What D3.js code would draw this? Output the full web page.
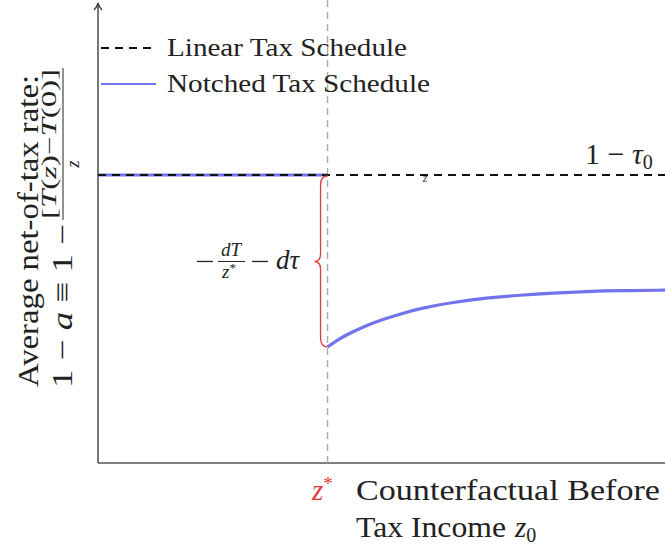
<!DOCTYPE html>
<html><head><meta charset="utf-8">
<script src="https://cdn.jsdelivr.net/npm/d3@7"></script>
<style>body{margin:0;background:#fff}svg{display:block}text{font-family:"Liberation Serif","DejaVu Serif",serif;fill:#222}</style>
</head><body><svg id="c" width="665" height="547"></svg>
<script>
// ---- data ----
const zStar = 1.0;                 // notch point (income units)
const zMax = 2.47;                 // right end of x axis
const linearRate = 0.70;           // 1 - tau0
const linearZ = [0, zMax];
const notchFlatZ = [0, zStar];
const notchCurveZ = [1.0, 1.054, 1.111, 1.185, 1.259, 1.329, 1.403, 1.55, 1.69, 1.84, 1.98, 2.13, 2.27, 2.47];
const notchCurveY = [0.282, 0.303, 0.319, 0.338, 0.352, 0.364, 0.376, 0.391, 0.401, 0.408, 0.413, 0.417, 0.419, 0.420];
const legendLabels = ["Linear Tax Schedule", "Notched Tax Schedule"];

(function(){
const svg = d3.select("#c");
const x = d3.scaleLinear().domain([0, zMax]).range([98, 665]);
const y = d3.scaleLinear().domain([0, 1.118]).range([463, 3]);

const blue = "#7373ee", red = "#e23a3a";

// axes
svg.append("line").attr("x1", x(0)).attr("x2", x(zMax)).attr("y1", y(0)).attr("y2", y(0))
  .attr("stroke", "#555").attr("stroke-width", 1.6);
svg.append("line").attr("x1", x(0)).attr("x2", x(0)).attr("y1", y(0)).attr("y2", y(1.118)+2)
  .attr("stroke", "#555").attr("stroke-width", 1.6);
svg.append("path").attr("d", `M${x(0)-4},${y(1.118)+7} Q${x(0)-1},${y(1.118)+4} ${x(0)},${y(1.118)} Q${x(0)+1},${y(1.118)+4} ${x(0)+4},${y(1.118)+7}`)
  .attr("fill", "none").attr("stroke", "#333").attr("stroke-width", 1.2);

// vertical dashed line at z*
svg.append("line").attr("x1", x(zStar)).attr("x2", x(zStar)).attr("y1", 0).attr("y2", y(0))
  .attr("stroke", "#aaa").attr("stroke-width", 1.4).attr("stroke-dasharray", "7,5");

// notched schedule
const line = d3.line().x(d => x(d[0])).y(d => y(d[1]));
svg.append("path").attr("d", line(notchFlatZ.map(z => [z, linearRate])))
  .attr("fill", "none").attr("stroke", blue).attr("stroke-width", 3.2);
svg.append("path").attr("d", d3.line().x(d => x(d[0])).y(d => y(d[1])).curve(d3.curveBasis)(notchCurveZ.map((z, i) => [z, notchCurveY[i]])))
  .attr("fill", "none").attr("stroke", blue).attr("stroke-width", 3.2);

// linear schedule (dashed black)
svg.append("path").attr("d", line(linearZ.map(z => [z, linearRate])))
  .attr("fill", "none").attr("stroke", "#111").attr("stroke-width", 2).attr("stroke-dasharray", "8,6");

// stray small z on the dashed line
svg.append("text").attr("x", 425).attr("y", 182).attr("font-size", 12).attr("font-style", "italic")
  .attr("text-anchor", "middle").style("fill", "#444").text("z");

// brace
const bx = x(zStar) - 7, bTop = y(linearRate) + 1, bBot = y(notchCurveY[0]), mid = (bTop + bBot) / 2;
const p = d3.path();
p.moveTo(x(zStar), bTop);
p.quadraticCurveTo(bx, bTop, bx, bTop + 9);
p.lineTo(bx, mid - 8);
p.quadraticCurveTo(bx, mid, bx - 6, mid);
p.quadraticCurveTo(bx, mid, bx, mid + 8);
p.lineTo(bx, bBot - 9);
p.quadraticCurveTo(bx, bBot, x(zStar), bBot);
svg.append("path").attr("d", p.toString()).attr("fill", "none").attr("stroke", red).attr("stroke-width", 1.3);

// brace label  −dT/z* − dτ
const lg = svg.append("g");
lg.append("line").attr("x1", 197).attr("x2", 213).attr("y1", mid).attr("y2", mid).attr("stroke", "#222").attr("stroke-width", 1.3);
lg.append("text").attr("x", 231).attr("y", mid - 5).attr("font-size", 19).attr("font-style", "italic").attr("text-anchor", "middle").text("dT");
lg.append("line").attr("x1", 218).attr("x2", 245).attr("y1", mid).attr("y2", mid).attr("stroke", "#222").attr("stroke-width", 1);
lg.append("text").attr("x", 229).attr("y", mid + 17).attr("font-size", 19).attr("font-style", "italic").attr("text-anchor", "middle")
  .html('z<tspan font-size="13" dy="-6" font-style="normal">*</tspan>');
lg.append("line").attr("x1", 252).attr("x2", 268).attr("y1", mid).attr("y2", mid).attr("stroke", "#222").attr("stroke-width", 1.3);
lg.append("text").attr("x", 276).attr("y", mid + 8).attr("font-size", 27).attr("font-style", "italic").text("dτ");

// 1 − τ0
svg.append("text").attr("x", 585).attr("y", 164).attr("font-size", 30)
  .html('1 − <tspan font-style="italic">τ</tspan><tspan font-size="20" dy="5">0</tspan>');

// legend
const leg = svg.append("g");
leg.append("line").attr("x1", 101).attr("x2", 156).attr("y1", 48).attr("y2", 48)
  .attr("stroke", "#111").attr("stroke-width", 2).attr("stroke-dasharray", "8,6");
leg.append("line").attr("x1", 101).attr("x2", 156).attr("y1", 84).attr("y2", 84)
  .attr("stroke", blue).attr("stroke-width", 2);
leg.append("text").attr("x", 167).attr("y", 56).attr("font-size", 25).attr("textLength", 240).attr("lengthAdjust", "spacingAndGlyphs").text(legendLabels[0]);
leg.append("text").attr("x", 167).attr("y", 92).attr("font-size", 25).attr("textLength", 263).attr("lengthAdjust", "spacingAndGlyphs").text(legendLabels[1]);

// x-axis label
svg.append("text").attr("x", 312).attr("y", 500).attr("font-size", 29).attr("font-style", "italic").style("fill", red)
  .html('z<tspan font-size="19" dy="-10" font-style="normal">*</tspan>');
svg.append("text").attr("x", 356).attr("y", 500).attr("font-size", 29).attr("textLength", 304).attr("lengthAdjust", "spacingAndGlyphs").text("Counterfactual Before");
svg.append("text").attr("x", 356).attr("y", 537).attr("font-size", 29).attr("textLength", 150).attr("lengthAdjust", "spacingAndGlyphs").text("Tax Income");
svg.append("text").attr("x", 515).attr("y", 537).attr("font-size", 29)
  .html('<tspan font-style="italic">z</tspan><tspan font-size="20" dy="5">0</tspan>');

// y-axis label (rotated)
const yl = svg.append("g").attr("transform", "rotate(-90)");
yl.append("text").attr("x", -387).attr("y", 38).attr("font-size", 29).attr("textLength", 312).attr("lengthAdjust", "spacingAndGlyphs").text("Average net-of-tax rate:");
yl.append("text").attr("x", -388).attr("y", 72).attr("font-size", 29).attr("textLength", 164).attr("lengthAdjust", "spacingAndGlyphs")
  .html('1 − <tspan font-style="italic">a</tspan> ≡ 1 −');
yl.append("text").attr("x", -219).attr("y", 56).attr("font-size", 20).attr("textLength", 150).attr("lengthAdjust", "spacingAndGlyphs")
  .html('[<tspan font-style="italic">T</tspan>(<tspan font-style="italic">z</tspan>)−<tspan font-style="italic">T</tspan>(0)]');
yl.append("line").attr("x1", -220).attr("x2", -68).attr("y1", 63).attr("y2", 63).attr("stroke", "#222").attr("stroke-width", 1);
yl.append("text").attr("x", -164).attr("y", 79).attr("font-size", 18).attr("font-style", "italic").attr("text-anchor", "middle").text("z");
})();
</script></body></html>
